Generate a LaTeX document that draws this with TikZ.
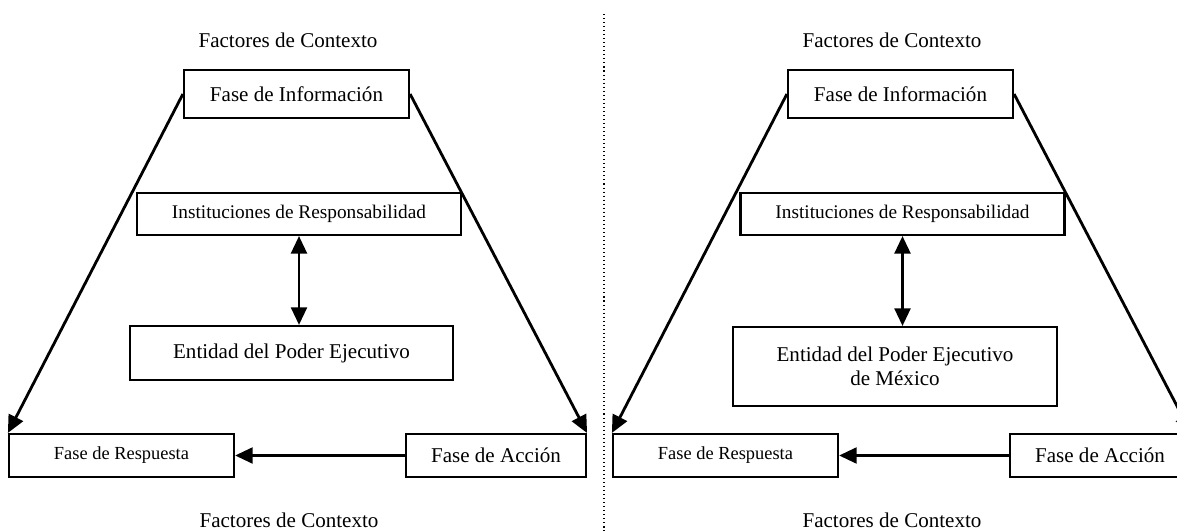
\documentclass[tikz,border=0pt]{standalone}
\usepackage{fontspec}
\setmainfont{Liberation Serif}
\usetikzlibrary{arrows.meta}

\tikzset{
  fase/.style={draw, line width=1.2pt, inner sep=0pt},
  flecha/.style={line width=1.6pt, -{Triangle[length=10pt,width=9pt]}},
  doble/.style={line width=1.6pt, {Triangle[length=10pt,width=9pt]}-{Triangle[length=10pt,width=9pt]}}
}

\begin{document}
\begin{tikzpicture}[x=0.57pt, y=-0.57pt, every node/.style={font=\fontsize{12}{14}\selectfont}]
\useasboundingbox (0,0) rectangle (1177,531);
\clip (0,0) rectangle (1177,531);
%\draw[help lines, color=gray!30] (0,0) grid[step=50] (1177,531);

% left
\node (ctxA1) at (288,40) {Factores de Contexto};
\node (ctxA2) at (289,520) {Factores de Contexto};
\node[fase, minimum width=128.3pt, minimum height=27.4pt] (infoA) at (296.5,94) {Fase de Información};
\node[fase, minimum width=184.7pt, minimum height=23.9pt, font=\fontsize{11}{13}\selectfont] (instA) at (299,214) {Instituciones de Responsabilidad};
\node[fase, minimum width=184.1pt, minimum height=30.8pt] (entA) at (291.5,353) {Entidad del Poder Ejecutivo};
\node[fase, minimum width=128.3pt, minimum height=24.5pt, font=\fontsize{10.5}{12}\selectfont] (respA) at (121.5,455.5) {Fase de Respuesta};
\node[fase, minimum width=102.6pt, minimum height=24.5pt] (accA) at (496,455.5) {Fase de Acción};

\draw[flecha] (infoA.west) -- (respA.north west);
\draw[flecha] (infoA.east) -- (accA.north east);
\draw[flecha] (accA.west) -- (respA.east);
\draw[doble] (instA.south) -- (instA.south |- entA.north);

% divider
\draw[line width=0.6pt, dash pattern=on 0.6pt off 1.7pt] (604,14) -- (604,531);

% right
\node (ctxB1) at (892,40) {Factores de Contexto};
\node (ctxB2) at (892,520) {Factores de Contexto};
\node[fase, minimum width=128.3pt, minimum height=27.4pt] (infoB) at (900.5,94) {Fase de Información};
\node[fase, minimum width=184.7pt, minimum height=23.9pt, font=\fontsize{11}{13}\selectfont] (instB) at (902.5,214) {Instituciones de Responsabilidad};
\node[fase, minimum width=184.7pt, minimum height=45pt, align=center] (entB) at (895,366.5) {Entidad del Poder Ejecutivo\\de México};
\node[fase, minimum width=128.3pt, minimum height=24.5pt, font=\fontsize{10.5}{12}\selectfont] (respB) at (725.5,455.5) {Fase de Respuesta};
\node[fase, minimum width=102.6pt, minimum height=24.5pt] (accB) at (1100,455.5) {Fase de Acción};

\draw[flecha] (infoB.west) -- (respB.north west);
\draw[flecha] (infoB.east) -- (accB.north east);
\draw[flecha] (accB.west) -- (respB.east);
\draw[doble] (instB.south) -- (instB.south |- entB.north);

\end{tikzpicture}
\end{document}
